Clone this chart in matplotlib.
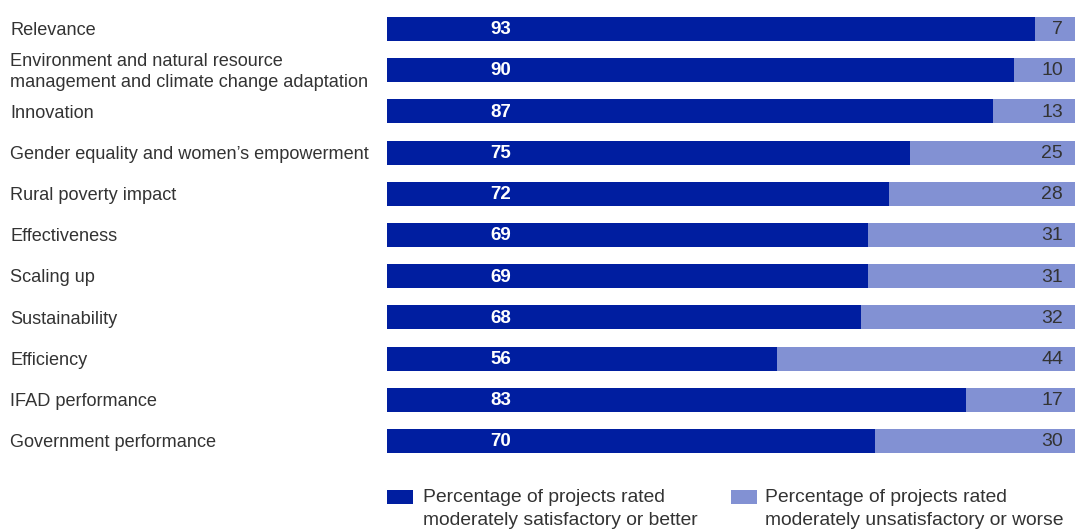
import matplotlib
matplotlib.use("Agg")
import matplotlib.pyplot as plt
from matplotlib.patches import Rectangle
from matplotlib.transforms import blended_transform_factory

plt.rcParams['font.family'] = ['Liberation Sans', 'DejaVu Sans']

categories = [
    "Relevance",
    "Environment and natural resource\nmanagement and climate change adaptation",
    "Innovation",
    "Gender equality and women\u2019s empowerment",
    "Rural poverty impact",
    "Effectiveness",
    "Scaling up",
    "Sustainability",
    "Efficiency",
    "IFAD performance",
    "Government performance",
]
satisfactory = [93, 90, 87, 75, 72, 69, 69, 68, 56, 83, 70]
unsatisfactory = [7, 10, 13, 25, 28, 31, 31, 32, 44, 17, 30]
legend_labels = [
    "Percentage of projects rated\nmoderately satisfactory or better",
    "Percentage of projects rated\nmoderately unsatisfactory or worse",
]

dark = "#001ea0"
light = "#8291d3"
text_col = "#333333"

W, H = 1075, 530
fig = plt.figure(figsize=(W / 100, H / 100), dpi=100)
ax = fig.add_axes([387 / W, 1 - 453 / H, 697 / W, 436 / H])

ys = list(range(len(categories)))
bh = 0.58
ax.barh(ys, satisfactory, height=bh, color=dark, linewidth=0)
ax.barh(ys, unsatisfactory, left=satisfactory, height=bh, color=light, linewidth=0)
ax.set_xlim(0, 100)
ax.set_ylim(len(categories) - 1 + bh / 2, -bh / 2)
ax.axis("off")

for y, s, u in zip(ys, satisfactory, unsatisfactory):
    ax.text(16.3, y + 0.02, str(s), ha="center", va="center", color="white",
            fontsize=13.5, fontweight="bold")
    ax.text(97.0, y + 0.02, str(u), ha="right", va="center", color=text_col,
            fontsize=14)

tr = blended_transform_factory(fig.transFigure, ax.transData)
for y, c in zip(ys, categories):
    ax.text(10 / W, y + 0.04, c, transform=tr, ha="left", va="center",
            color=text_col, fontsize=13.1, linespacing=1.3)

# legend
for x0, tx, col, lab in [(387, 423, dark, legend_labels[0]),
                          (731, 765, light, legend_labels[1])]:
    fig.patches.append(Rectangle((x0 / W, 1 - 504 / H), 26 / W, 14 / H,
                                 transform=fig.transFigure, color=col,
                                 linewidth=0))
    fig.text(tx / W, 1 - 489 / H, lab, ha="left", va="top", color=text_col,
             fontsize=13.9, linespacing=1.45)

fig.savefig("out.png", dpi=100)
